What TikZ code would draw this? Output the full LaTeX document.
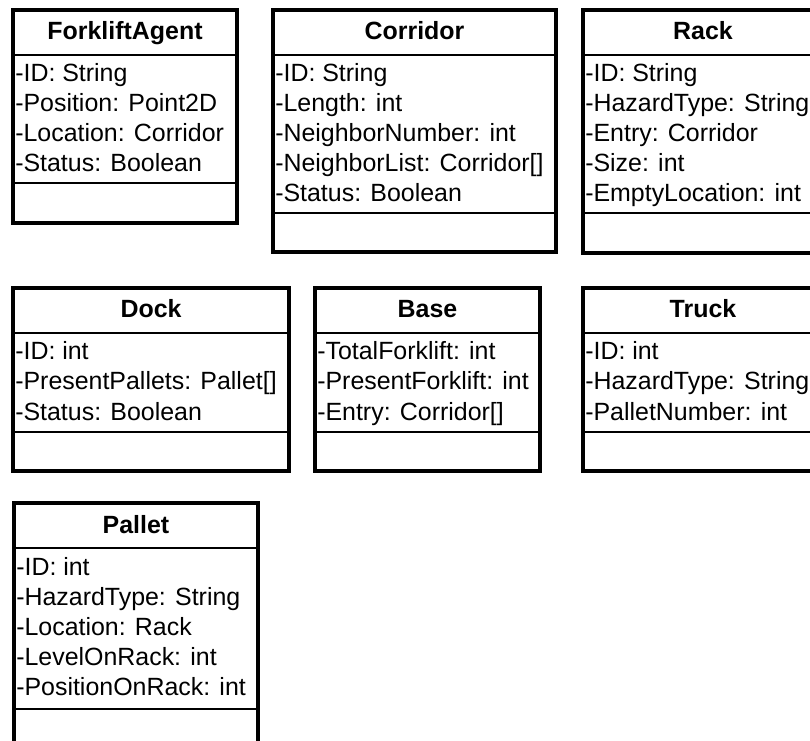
\documentclass[tikz,border=0pt]{standalone}
\usepackage{fontspec}
\setmainfont{Liberation Sans}
\tikzset{
  boxline/.style={line width=2.3pt, draw=black},
  sepline/.style={line width=2.1pt, draw=black},
  classtitle/.style={font=\bfseries\fontsize{18.7}{22}\selectfont, anchor=base, inner sep=0pt},
  attr/.style={font=\fontsize{18.7}{22}\selectfont, anchor=base west, inner sep=0pt},
}
\begin{document}
\begin{tikzpicture}[x=0.75pt,y=-0.75pt]
\useasboundingbox (0,0) rectangle (810,741);
\clip (0,0) rectangle (810,741);
\fill[white] (0,0) rectangle (810,741);

% ForkliftAgent
\draw[boxline] (13,10) rectangle (237,223);
\draw[sepline] (13,55) -- (237,55);
\draw[sepline] (13,183) -- (237,183);
\node[classtitle] (fat) at (125,40) {ForkliftAgent};
\node[attr] (fa1) at (15,82) {-ID: String};
\node[attr] (fa2) at (15,112) {-Position: Point2D};
\node[attr] (fa3) at (15,142) {-Location: Corridor};
\node[attr] (fa4) at (15,172) {-Status: Boolean};

% Corridor
\draw[boxline] (273,10) rectangle (556,252);
\draw[sepline] (273,55) -- (556,55);
\draw[sepline] (273,213) -- (556,213);
\node[classtitle] (cot) at (414.5,40) {Corridor};
\node[attr] (co1) at (275,82) {-ID: String};
\node[attr] (co2) at (275,112) {-Length: int};
\node[attr] (co3) at (275,142) {-NeighborNumber: int};
\node[attr] (co4) at (275,172) {-NeighborList: Corridor[]};
\node[attr] (co5) at (275,202) {-Status: Boolean};

% Rack
\draw[boxline] (583,10) rectangle (823,253);
\draw[sepline] (583,55) -- (823,55);
\draw[sepline] (583,213) -- (823,213);
\node[classtitle] (rat) at (703,40) {Rack};
\node[attr] (ra1) at (585,82) {-ID: String};
\node[attr] (ra2) at (585,112) {-HazardType: String};
\node[attr] (ra3) at (585,142) {-Entry: Corridor};
\node[attr] (ra4) at (585,172) {-Size: int};
\node[attr] (ra5) at (585,202) {-EmptyLocation: int};

% Dock
\draw[boxline] (13,288) rectangle (289,471);
\draw[sepline] (13,333) -- (289,333);
\draw[sepline] (13,432) -- (289,432);
\node[classtitle] (dot) at (151,318) {Dock};
\node[attr] (do1) at (15,360) {-ID: int};
\node[attr] (do2) at (15,390) {-PresentPallets: Pallet[]};
\node[attr] (do3) at (15,420) {-Status: Boolean};

% Base
\draw[boxline] (315,288) rectangle (540,471);
\draw[sepline] (315,333) -- (540,333);
\draw[sepline] (315,432) -- (540,432);
\node[classtitle] (bat) at (427.5,318) {Base};
\node[attr] (ba1) at (317,360) {-TotalForklift: int};
\node[attr] (ba2) at (317,390) {-PresentForklift: int};
\node[attr] (ba3) at (317,420) {-Entry: Corridor[]};

% Truck
\draw[boxline] (583,288) rectangle (823,471);
\draw[sepline] (583,333) -- (823,333);
\draw[sepline] (583,432) -- (823,432);
\node[classtitle] (trt) at (703,318) {Truck};
\node[attr] (tr1) at (585,360) {-ID: int};
\node[attr] (tr2) at (585,390) {-HazardType: String};
\node[attr] (tr3) at (585,420) {-PalletNumber: int};

% Pallet
\draw[boxline] (14,503) rectangle (258,770);
\draw[sepline] (14,548) -- (258,548);
\draw[sepline] (14,709) -- (258,709);
\node[classtitle] (pat) at (136,533) {Pallet};
\node[attr] (pa1) at (16,575) {-ID: int};
\node[attr] (pa2) at (16,605) {-HazardType: String};
\node[attr] (pa3) at (16,635) {-Location: Rack};
\node[attr] (pa4) at (16,665) {-LevelOnRack: int};
\node[attr] (pa5) at (16,695) {-PositionOnRack: int};
\end{tikzpicture}
\end{document}
